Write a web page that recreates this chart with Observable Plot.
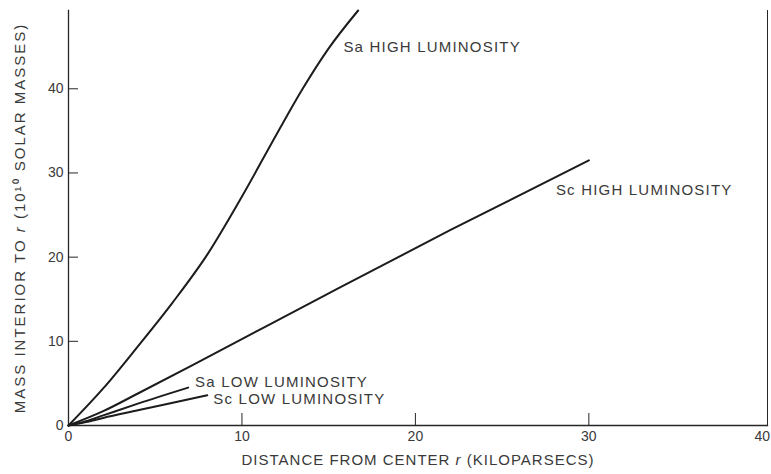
<!DOCTYPE html>
<html>
<head>
<meta charset="utf-8">
<script src="https://cdn.jsdelivr.net/npm/d3@7"></script>
<script src="https://cdn.jsdelivr.net/npm/@observablehq/plot@0.6"></script>
<style>
  body { margin: 0; background: #fff; }
  svg { display: block; }
</style>
</head>
<body>
<div id="chart"></div>
<script>
// ---- data ----
const seriesNames = ["Sa HIGH LUMINOSITY", "Sc HIGH LUMINOSITY", "Sa LOW LUMINOSITY", "Sc LOW LUMINOSITY"];

const saHighR = [0, 2, 4, 6, 8, 10, 12, 13.5, 15, 16.7];
const saHighM = [0, 4.4, 9.4, 14.6, 20.3, 27.2, 34.6, 40.0, 44.8, 49.3];

const scHighR = [0, 2, 4, 8, 15, 22, 30];
const scHighM = [0, 1.7, 3.8, 8.1, 15.7, 23.2, 31.5];

const saLowR = [0, 1, 2, 4, 6.9];
const saLowM = [0, 0.5, 1.2, 2.6, 4.5];

const scLowR = [0, 1, 2, 4, 8];
const scLowM = [0, 0.4, 0.9, 1.8, 3.6];

const xTicks = [0, 10, 20, 30, 40];
const yTicks = [0, 10, 20, 30, 40];

const xTitle = "DISTANCE FROM CENTER r (KILOPARSECS)";
const yTitle = "MASS INTERIOR TO r (10\u00B9\u2070 SOLAR MASSES)";

// label anchor points (data units) for each curve's name
const labelR = [15.85, 28.1, 7.3, 8.35];
const labelM = [44.9, 28.0, 5.2, 3.1];

// ---- build tables ----
const rows = [];
[[saHighR, saHighM], [scHighR, scHighM], [saLowR, saLowM], [scLowR, scLowM]].forEach(([rs, ms], i) => {
  rs.forEach((r, j) => rows.push({series: seriesNames[i], r, m: ms[j]}));
});
const labels = seriesNames.map((name, i) => ({name, r: labelR[i], m: labelM[i]}));

const ink = "#262626";
const textInk = "#3a3a3a";

const chart = Plot.plot({
  width: 771,
  height: 474,
  marginLeft: 68,
  marginRight: 4,
  marginTop: 10,
  marginBottom: 49,
  style: {
    fontFamily: "'Liberation Sans', Arial, Helvetica, sans-serif",
    fontSize: "14px",
    color: textInk,
    background: "#fff",
    overflow: "visible"
  },
  x: {domain: [0, 40.3]},
  y: {domain: [0, 49.3]},
  marks: [
    Plot.frame({anchor: "left", stroke: ink, strokeWidth: 1.3}),
    Plot.frame({anchor: "bottom", stroke: ink, strokeWidth: 1.3}),
    Plot.frame({anchor: "right", stroke: ink, strokeWidth: 1}),
    // inward tick marks
    Plot.axisX({ticks: xTicks.slice(1, -1), tickSize: -12, text: null, label: null, stroke: ink}),
    Plot.axisY({ticks: yTicks.slice(1), tickSize: -10, text: null, label: null, stroke: ink}),
    // tick labels
    Plot.axisX({ticks: xTicks, tickSize: 0, tickPadding: 6, label: null, fill: textInk, fontSize: 14}),
    Plot.axisY({ticks: yTicks, tickSize: 0, tickPadding: 5, label: null, fill: textInk, fontSize: 14}),
    // axis titles
    Plot.text([xTitle], {frameAnchor: "bottom", textAnchor: "middle", dy: 39, text: d => d, fill: textInk, fontSize: 15}),
    Plot.text([yTitle], {frameAnchor: "left", textAnchor: "middle", lineAnchor: "middle", dx: -48, rotate: -90, text: d => d, fill: textInk, fontSize: 15}),
    // curves
    Plot.line(rows, {x: "r", y: "m", z: "series", curve: "monotone-x", stroke: "#1c1c1c", strokeWidth: 2}),
    // curve labels
    Plot.text(labels, {x: "r", y: "m", text: "name", textAnchor: "start", fill: textInk, fontSize: 15})
  ]
});

// typographic touches: letter spacing and italic "r"
chart.querySelectorAll("text").forEach(t => {
  const s = t.textContent;
  if (seriesNames.includes(s)) t.style.letterSpacing = "1.2px";
  if (s === xTitle) t.style.letterSpacing = "1px";
  if (s === yTitle) t.style.letterSpacing = "2px";
  if (s === xTitle || s === yTitle) {
    const idx = s.indexOf(" r (");
    const parts = [s.slice(0, idx + 1), "r", s.slice(idx + 2)];
    t.textContent = "";
    parts.forEach((p, k) => {
      const ts = document.createElementNS("http://www.w3.org/2000/svg", "tspan");
      ts.textContent = p;
      if (k === 1) ts.setAttribute("font-style", "italic");
      t.appendChild(ts);
    });
  }
});

document.getElementById("chart").appendChild(chart);
</script>
</body>
</html>
